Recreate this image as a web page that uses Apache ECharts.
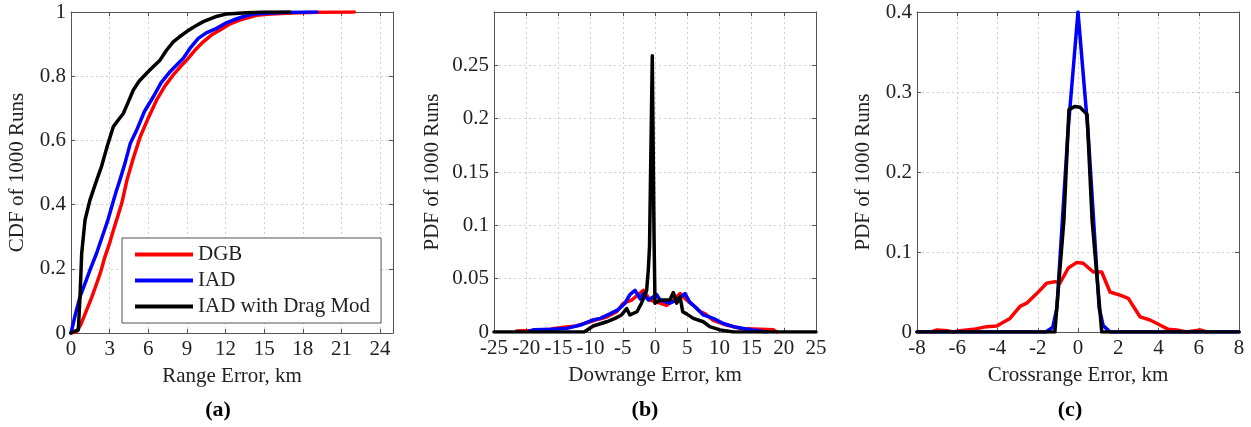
<!DOCTYPE html>
<html>
<head>
<meta charset="utf-8">
<script src="https://cdn.jsdelivr.net/npm/echarts@6/dist/echarts.min.js"></script>
<style>
html,body{margin:0;padding:0;background:#fff;}
#chart{width:1251px;height:427px;}
</style>
</head>
<body>
<div id="chart"></div>
<script>
// ---------- data ----------
const seriesNames = ['DGB', 'IAD', 'IAD with Drag Mod'];
const panelLabels = ['(a)', '(b)', '(c)'];
const xNames = ['Range Error, km', 'Dowrange Error, km', 'Crossrange Error, km'];
const yNames = ['CDF of 1000 Runs', 'PDF of 1000 Runs', 'PDF of 1000 Runs'];

// panel (a) CDF of range error: [km, cdf]
const aDGB = [[0,0],[0.44,0.004],[0.8,0.03],[1.22,0.072],[1.6,0.11],[2.0,0.155],[2.3,0.19],[2.64,0.238],[3.0,0.28],[3.29,0.32],[3.6,0.36],[3.94,0.404],[4.35,0.477],[4.8,0.54],[5.36,0.61],[6.0,0.67],[6.65,0.726],[7.3,0.77],[7.94,0.804],[8.5,0.83],[8.98,0.85],[9.6,0.88],[10.27,0.907],[10.9,0.928],[11.57,0.944],[12.3,0.962],[13.1,0.975],[14.4,0.99],[15.5,0.994],[17.2,0.997],[19,0.999],[22,1]];
const aIAD = [[0,0],[0.05,0.004],[0.35,0.06],[0.7,0.113],[1.1,0.155],[1.47,0.196],[2.0,0.25],[2.51,0.31],[2.85,0.35],[3.16,0.393],[3.5,0.44],[3.8,0.477],[4.2,0.53],[4.6,0.59],[5.1,0.632],[5.7,0.69],[6.39,0.736],[7.0,0.78],[7.69,0.814],[8.2,0.835],[8.72,0.856],[9.3,0.89],[9.88,0.918],[10.5,0.935],[11.3,0.949],[12.0,0.965],[12.6,0.975],[13.4,0.986],[14.2,0.994],[15.5,0.997],[17,0.999],[19.1,1]];
const aDrag = [[0,0],[0.18,0.004],[0.57,0.01],[0.7,0.113],[0.83,0.248],[1.09,0.352],[1.47,0.414],[2.0,0.477],[2.38,0.52],[2.8,0.58],[3.29,0.643],[3.7,0.665],[4.06,0.684],[4.45,0.72],[4.84,0.757],[5.3,0.785],[5.87,0.809],[6.4,0.83],[6.91,0.85],[7.4,0.88],[7.94,0.907],[8.4,0.922],[8.98,0.939],[9.6,0.955],[10.27,0.97],[11.2,0.985],[12.1,0.994],[13.6,0.998],[15,1],[17,1]];

// panel (b) PDF of downrange error: [km, pdf]
const bDGB = [[-21.5,0.001],[-19,0.0015],[-16.3,0.0025],[-14.2,0.0044],[-12.2,0.0056],[-10.1,0.0096],[-8.8,0.012],[-7.5,0.014],[-5.95,0.019],[-4.9,0.027],[-3.6,0.030],[-2.6,0.035],[-1.8,0.039],[-0.78,0.030],[0.78,0.027],[1.8,0.025],[2.85,0.030],[3.9,0.036],[4.9,0.030],[5.95,0.025],[7.0,0.019],[7.8,0.017],[9.05,0.011],[11.1,0.0065],[13.2,0.0034],[16.3,0.0025],[18.4,0.002],[18.9,0]];
const bIAD = [[-19.5,0.001],[-18.9,0.002],[-16,0.0025],[-13.7,0.0034],[-11.6,0.0065],[-9.8,0.011],[-8.5,0.0128],[-7.0,0.017],[-5.7,0.021],[-4.66,0.027],[-3.9,0.035],[-3.1,0.039],[-2.3,0.031],[-1.8,0.036],[-1.04,0.030],[0.26,0.035],[0.78,0.030],[2.3,0.027],[3.37,0.030],[4.66,0.036],[5.4,0.028],[6.5,0.022],[7.5,0.016],[9.05,0.0128],[10.6,0.008],[12.2,0.005],[14.2,0.0028],[16.3,0.001],[17.3,0]];
const bDrag = [[-25,0],[-11,0],[-9.6,0.0056],[-7.5,0.0096],[-6.2,0.0128],[-5.2,0.016],[-4.4,0.022],[-3.9,0.016],[-2.8,0.019],[-2.1,0.027],[-1.3,0.039],[-1.04,0.058],[-0.85,0.08],[-0.42,0.259],[-0.15,0.09],[0.0,0.027],[0.78,0.030],[2.3,0.030],[2.85,0.037],[3.37,0.027],[3.9,0.033],[4.3,0.019],[4.9,0.017],[5.95,0.0128],[7.5,0.0096],[8.5,0.005],[10.1,0.002],[12.2,0],[25,0]];

// panel (c) PDF of crossrange error: [km, pdf]
const cDGB = [[-7.3,0],[-7.0,0.0025],[-6.5,0.0017],[-6.2,0],[-5.86,0.0017],[-5.2,0.0033],[-4.54,0.0067],[-4.04,0.0075],[-3.38,0.017],[-2.88,0.032],[-2.55,0.036],[-2.05,0.048],[-1.56,0.061],[-1.14,0.063],[-0.9,0.061],[-0.48,0.080],[-0.06,0.087],[0.26,0.086],[0.76,0.075],[1.18,0.075],[1.59,0.050],[2.09,0.046],[2.5,0.042],[3.08,0.019],[3.58,0.015],[4.07,0.0088],[4.49,0.0033],[4.9,0.0025],[5.4,0],[6.06,0.0025],[6.4,0]];
const cIAD = [[-8,0],[-1.6,0],[-1.25,0.006],[-1.05,0.03],[-0.5,0.25],[0,0.4],[0.5,0.25],[1.05,0.03],[1.25,0.008],[1.6,0],[8,0]];
const cDrag = [[-8,0],[-1.15,0],[-0.7,0.14],[-0.45,0.278],[-0.15,0.282],[0.1,0.281],[0.45,0.272],[0.7,0.14],[1.18,0],[8,0]];

// axis ranges
const xRanges = [[0, 25, 3], [-25, 25, 5], [-8, 8, 2]];
const yRanges = [[0, 1, 0.2], [0, 0.3, 0.05], [0, 0.4, 0.1]];

// ---------- styling ----------
const FONT = '"Liberation Serif", "Times New Roman", serif';
const TXT = '#222';
const AXC = '#555';
const colors = ['#ff0000', '#0000ff', '#000000'];
const gridLefts = [71, 494, 917];
const yNameGaps = [43, 51, 43];
const hideMaxX = [true, false, false];
const hideMaxY = [false, true, false];

const grids = gridLefts.map((l, i) => ({left: l, top: 12, width: 322, height: i === 0 ? 321 : 320, containLabel: false, outerBoundsMode: 'none'}));

const xAxes = [], yAxes = [];
for (let i = 0; i < 3; i++) {
  const [xmin, xmax, xint] = xRanges[i];
  const [ymin, ymax, yint] = yRanges[i];
  xAxes.push({
    type: 'value', gridIndex: i, position: 'bottom', min: xmin, max: xmax, interval: xint,
    name: xNames[i], nameLocation: 'middle', nameGap: 33,
    nameTextStyle: {fontFamily: FONT, fontSize: 21, color: TXT},
    axisLine: {show: true, onZero: false, lineStyle: {color: AXC, width: 1}},
    axisTick: {show: true, inside: true, length: 4, lineStyle: {color: AXC}},
    axisLabel: {fontFamily: FONT, fontSize: 21, color: TXT, margin: 6, showMaxLabel: !hideMaxX[i], showMinLabel: true, hideOverlap: false},
    splitLine: {show: true, lineStyle: {color: '#cfcfcf', type: [2, 3], width: 1}}
  });
  xAxes.push({
    type: 'value', gridIndex: i, position: 'top', min: xmin, max: xmax, interval: xint,
    axisLine: {show: true, onZero: false, lineStyle: {color: AXC, width: 1}},
    axisTick: {show: true, inside: true, length: 4, lineStyle: {color: AXC}},
    axisLabel: {show: false}, splitLine: {show: false}
  });
  yAxes.push({
    type: 'value', gridIndex: i, position: 'left', min: ymin, max: ymax, interval: yint,
    name: yNames[i], nameLocation: 'middle', nameGap: yNameGaps[i],
    nameTextStyle: {fontFamily: FONT, fontSize: 21, color: TXT},
    axisLine: {show: true, onZero: false, lineStyle: {color: AXC, width: 1}},
    axisTick: {show: true, inside: true, length: 4, lineStyle: {color: AXC}},
    axisLabel: {fontFamily: FONT, fontSize: 21, color: TXT, margin: 5, showMaxLabel: !hideMaxY[i], showMinLabel: true, hideOverlap: false},
    splitLine: {show: true, lineStyle: {color: '#cfcfcf', type: [2, 3], width: 1}}
  });
  yAxes.push({
    type: 'value', gridIndex: i, position: 'right', min: ymin, max: ymax, interval: yint,
    axisLine: {show: true, onZero: false, lineStyle: {color: AXC, width: 1}},
    axisTick: {show: true, inside: true, length: 4, lineStyle: {color: AXC}},
    axisLabel: {show: false}, splitLine: {show: false}
  });
}

const panelData = [[aDGB, aIAD, aDrag], [bDGB, bIAD, bDrag], [cDGB, cIAD, cDrag]];
const series = [];
panelData.forEach((arr, p) => {
  arr.forEach((d, k) => {
    series.push({
      name: seriesNames[k], type: 'line', data: d,
      xAxisIndex: p * 2, yAxisIndex: p * 2,
      symbol: 'none', showSymbol: false, animation: false, z: 3 + k,
      lineStyle: {color: colors[k], width: 3.5, cap: 'round', join: 'round'},
      itemStyle: {color: colors[k]}
    });
  });
});

const labelCenters = [218, 645, 1070];
const graphics = panelLabels.map((t, i) => ({
  type: 'text', x: labelCenters[i], y: 410,
  style: {text: t, fontFamily: FONT, fontSize: 22, fontWeight: 'bold', fill: '#000', align: 'center', verticalAlign: 'middle'}
}));

const option = {
  backgroundColor: '#fff',
  animation: false,
  grid: grids,
  xAxis: xAxes,
  yAxis: yAxes,
  legend: {
    data: seriesNames.map(n => ({name: n, icon: 'rect'})), orient: 'vertical', left: 122, top: 238,
    itemWidth: 58, itemHeight: 4, itemGap: 5,
    padding: [6, 11, 6, 13],
    backgroundColor: '#fff', borderColor: AXC, borderWidth: 1,
    textStyle: {fontFamily: FONT, fontSize: 21, color: TXT},
    selectedMode: false
  },
  graphic: graphics,
  series: series
};

const chart = echarts.init(document.getElementById('chart'), null, {renderer: 'canvas'});
chart.setOption(option);
</script>
</body>
</html>
